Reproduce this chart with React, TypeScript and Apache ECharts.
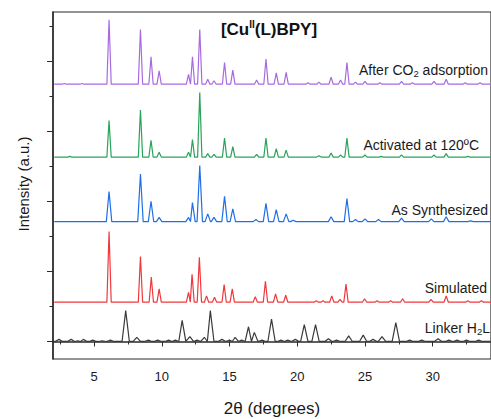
import React, { useEffect, useRef } from "react";
import * as echarts from "echarts";

// 2θ range of the x axis
const xMin = 1.96;
const xMax = 34.31;
const xTickLabels = [5, 10, 15, 20, 25, 30];
const xMinorTicks = [2.5, 7.5, 12.5, 17.5, 22.5, 27.5, 32.5];
const yMajorTicks = [0, 100, 200, 300, 400];
const yMinorTicks = [50, 150, 250, 350, 450];

const seriesNames = ["After CO2 adsorption", "Activated at 120ºC", "As Synthesized", "Simulated", "Linker H2L"];
const seriesColors = ["#a86ae0", "#2aa35a", "#1f6fe5", "#f0383c", "#3a3a3a"];
const offsets = [367, 263, 171, 56, 0];
const halfWidths = [0.16, 0.16, 0.2, 0.16, 0.27];

// [2θ, intensity] peak tables
const afterCO2Peaks = [
  [2.8, 1], [4.1, 1], [6.1, 92], [8.42, 78], [9.2, 39], [9.8, 19], [11.97, 14], [12.26, 39], [12.8, 78],
  [13.39, 7], [13.85, 5], [14.63, 31], [15.24, 20], [17.0, 6], [17.69, 36], [18.45, 16], [19.18, 17],
  [20.8, 2], [21.6, 3], [22.5, 10], [23.2, 6], [23.67, 31], [24.3, 3], [25.0, 4], [26.1, 2], [27.7, 4],
  [28.5, 2], [30.1, 4], [31.0, 7], [32.4, 2], [33.5, 2],
];
const activatedPeaks = [
  [3.2, 1], [6.1, 52], [8.42, 67], [9.2, 24], [9.8, 7], [11.97, 7], [12.26, 25], [12.8, 92], [13.39, 5],
  [13.85, 4], [14.63, 27], [15.24, 15], [17.0, 4], [17.69, 27], [18.45, 12], [19.18, 10], [21.6, 2],
  [22.5, 6], [23.2, 3], [23.67, 27], [25.0, 3], [26.2, 1], [27.7, 3], [30.1, 3], [31.0, 5], [32.6, 1],
];
const asSynthesizedPeaks = [
  [6.1, 43], [8.42, 68], [9.2, 29], [9.8, 6], [11.97, 6], [12.26, 27], [12.8, 80], [13.39, 11], [13.85, 6],
  [14.63, 36], [15.24, 18], [16.95, 3], [17.69, 26], [18.45, 17], [19.18, 11], [19.7, 2], [22.5, 7],
  [23.67, 33], [24.3, 3], [25.0, 4], [26.0, 3], [27.7, 5], [29.9, 4], [31.0, 7], [32.8, 1],
];
const simulatedPeaks = [
  [6.1, 101], [8.42, 65], [9.22, 36], [9.8, 19], [11.97, 14], [12.23, 40], [12.77, 64], [13.3, 9],
  [13.89, 7], [14.6, 25], [15.2, 19], [16.9, 8], [17.65, 30], [18.4, 12], [19.15, 10], [21.4, 2],
  [21.9, 2], [22.55, 9], [23.16, 4], [23.6, 26], [24.97, 5], [25.9, 2], [26.9, 2], [27.78, 5],
  [29.88, 4], [31.0, 9], [32.6, 2], [33.6, 2],
];
const linkerPeaks = [
  [2.4, 3], [3.3, 3], [3.8, 1], [4.2, 3], [4.9, 2], [5.6, 1], [6.2, 2], [7.33, 44], [8.15, 6], [9.0, 2],
  [9.7, 2], [10.5, 2], [11.0, 2], [11.5, 30], [12.07, 7], [12.6, 2], [13.14, 6], [13.58, 44], [14.44, 3],
  [15.0, 2], [15.41, 6], [15.9, 2], [16.4, 21], [16.83, 13], [17.4, 2], [18.1, 32], [18.8, 2], [19.3, 2],
  [19.86, 3], [20.52, 24], [21.35, 24], [22.3, 4], [22.9, 2], [23.8, 8], [24.87, 9], [25.6, 3], [26.26, 7],
  [27.28, 27], [28.3, 2], [29.2, 2], [30.4, 4], [31.2, 2], [31.8, 2], [32.5, 2], [33.4, 2],
];
const peakTables = [afterCO2Peaks, activatedPeaks, asSynthesizedPeaks, simulatedPeaks, linkerPeaks];

// right-hand labels (rich text)
const labelTexts = [
  "After CO{sub|2} adsorption",
  "Activated at 120ºC",
  "As Synthesized",
  "Simulated",
  "Linker H{sub|2}L",
];
const labelRight = [488, 479, 488, 487, 490];
const labelY = [70, 145, 210, 288, 328];

function buildLine(peaks: number[][], hw: number, offset: number) {
  const sorted = [...peaks].sort((a, b) => a[0] - b[0]);
  const pts: number[][] = [[2.05, offset]];
  for (let i = 0; i < sorted.length; i++) {
    const [x, h] = sorted[i];
    const prev = sorted[i - 1];
    const next = sorted[i + 1];
    if (!prev || prev[0] + hw <= x - hw) pts.push([x - hw, offset]);
    else pts.push([(prev[0] + x) / 2, offset]);
    pts.push([x, offset + h]);
    if (!next || x + hw <= next[0] - hw) pts.push([x + hw, offset]);
  }
  pts.push([xMax, offset]);
  return pts;
}

const FONT = "'Liberation Sans', Arial, Helvetica, sans-serif";

export default function App() {
  const ref = useRef<HTMLDivElement>(null);
  useEffect(() => {
    if (!ref.current) return;
    const chart = echarts.init(ref.current, null, { renderer: "svg" });
    const axisColor = "#2b2b2b";
    const series = peakTables.map((p, i) => ({
      name: seriesNames[i],
      type: "line",
      data: buildLine(p, halfWidths[i], offsets[i]),
      showSymbol: false,
      symbol: "none",
      lineStyle: { color: seriesColors[i], width: 1.2 },
      itemStyle: { color: seriesColors[i] },
      z: 5 - i,
    }));
    const graphic: any[] = [
      {
        type: "text",
        x: 269,
        y: 29,
        style: {
          text: "{b|[Cu}{sup|II}{b|(L)BPY]}",
          textAlign: "center",
          textVerticalAlign: "middle",
          fill: "#111",
          rich: {
            b: { fontSize: 17, fontWeight: "bold", fontFamily: FONT, lineHeight: 20, fill: "#111" },
            sup: { fontSize: 10, fontWeight: "bold", fontFamily: FONT, lineHeight: 10, verticalAlign: "top", fill: "#111" },
          },
        },
      },
      {
        type: "text",
        x: 272,
        y: 408,
        style: {
          text: "2θ (degrees)",
          font: `17px ${FONT}`,
          textAlign: "center",
          textVerticalAlign: "middle",
          fill: "#1a1a1a",
        },
      },
      {
        type: "text",
        x: 23,
        y: 184,
        rotation: Math.PI / 2,
        style: {
          text: "Intensity (a.u.)",
          font: `15px ${FONT}`,
          textAlign: "center",
          textVerticalAlign: "middle",
          fill: "#1a1a1a",
        },
      },
    ];
    labelTexts.forEach((t, i) => {
      graphic.push({
        type: "text",
        x: labelRight[i],
        y: labelY[i],
        z: 10,
        style: {
          text: `{n|${t.replace(/\{sub\|(\w+)\}/g, "}{sub|$1}{n|")}}`,
          textAlign: "right",
          textVerticalAlign: "middle",
          fill: "#1a1a1a",
          rich: {
            n: { fontSize: 14, fontFamily: FONT, lineHeight: 17, fill: "#1a1a1a" },
            sub: { fontSize: 9.5, fontFamily: FONT, lineHeight: 10, verticalAlign: "bottom", fill: "#1a1a1a" },
          },
        },
      });
    });

    chart.setOption({
      animation: false,
      grid: {
        left: 53,
        right: -2,
        top: 12,
        bottom: 60,
        show: true,
        borderColor: axisColor,
        borderWidth: 1.2,
        backgroundColor: "transparent",
      },
      xAxis: [
        {
          type: "value",
          min: xMin,
          max: xMax,
          position: "bottom",
          axisLine: { show: true, lineStyle: { color: axisColor, width: 1.5 } },
          axisTick: { show: true, length: 5, customValues: xTickLabels, lineStyle: { color: axisColor, width: 1 } },
          axisLabel: {
            show: true,
            customValues: xTickLabels,
            margin: 11,
            fontSize: 13,
            fontFamily: FONT,
            color: "#1a1a1a",
          },
          splitLine: { show: false },
        },
        {
          type: "value",
          min: xMin,
          max: xMax,
          position: "bottom",
          axisLine: { show: false },
          axisTick: { show: true, length: 3, customValues: xMinorTicks, lineStyle: { color: axisColor, width: 1 } },
          axisLabel: { show: false },
          splitLine: { show: false },
        },
      ],
      yAxis: [
        {
          type: "value",
          min: -25,
          max: 470,
          position: "left",
          axisLine: { show: true, lineStyle: { color: axisColor, width: 1.5 } },
          axisTick: { show: true, length: 6, customValues: yMajorTicks, lineStyle: { color: axisColor, width: 1 } },
          axisLabel: { show: false },
          splitLine: { show: false },
        },
        {
          type: "value",
          min: -25,
          max: 470,
          position: "left",
          axisLine: { show: false },
          axisTick: { show: true, length: 3.5, customValues: yMinorTicks, lineStyle: { color: axisColor, width: 1 } },
          axisLabel: { show: false },
          splitLine: { show: false },
        },
      ],
      series,
      graphic,
    });
    return () => chart.dispose();
  }, []);
  return (
    <div
      ref={ref}
      style={{ position: "fixed", left: 0, top: 0, width: 491, height: 419, background: "#fff" }}
    />
  );
}
